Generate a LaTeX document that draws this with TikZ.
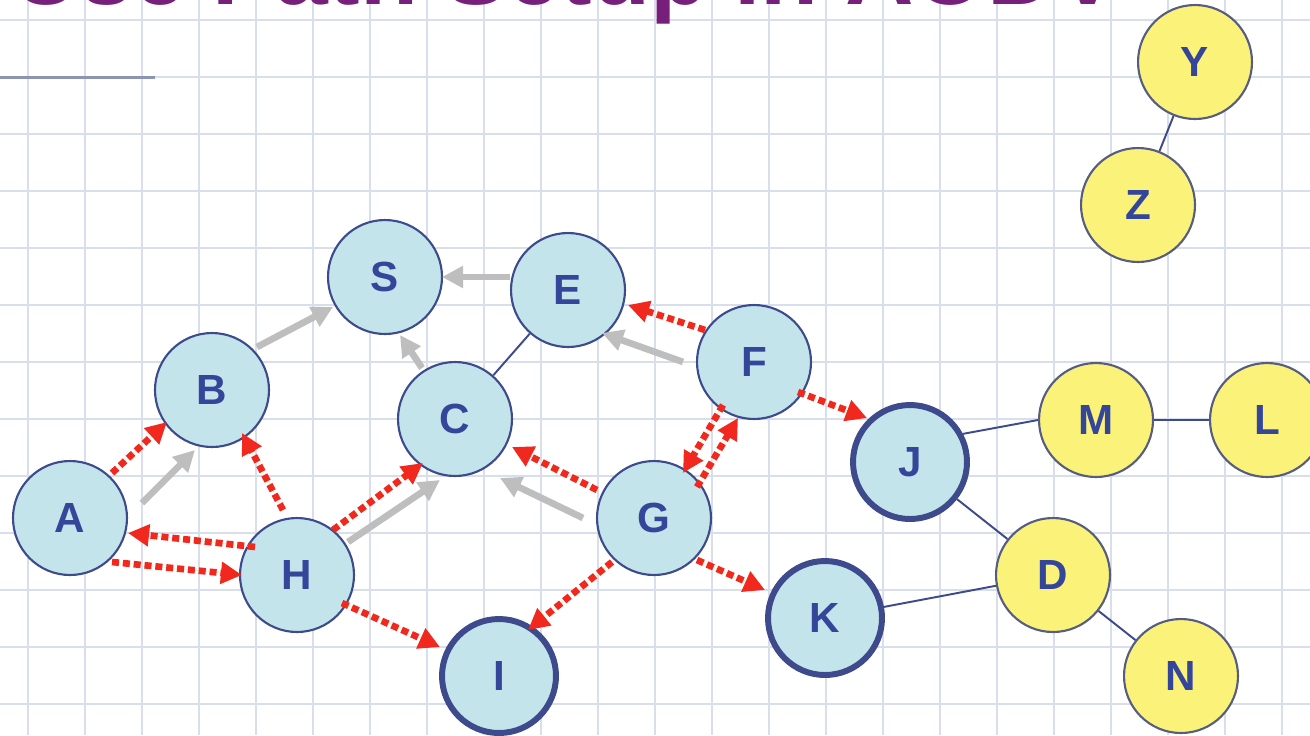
\documentclass[tikz,border=0pt]{standalone}
\usepackage{fontspec}
\setmainfont{Liberation Sans}
\usetikzlibrary{arrows.meta,calc}
\definecolor{gridblue}{HTML}{D9DEEC}
\definecolor{titlepurple}{HTML}{76207C}
\definecolor{rulegray}{HTML}{8C96B4}
\definecolor{nodeblue}{HTML}{C4E4EB}
\definecolor{rimblue}{HTML}{3D4B8C}
\definecolor{letterblue}{HTML}{34469A}
\definecolor{nodeyellow}{HTML}{FBF27A}
\definecolor{rimgray}{HTML}{565D80}
\definecolor{pathred}{HTML}{F0281E}
\definecolor{gapyellow}{HTML}{FFF2B8}
\definecolor{arrowgray}{HTML}{BEBEBE}
\begin{document}
\begin{tikzpicture}[x=0.02cm, y=-0.02cm,
    gridline/.style={draw=gridblue, line width=1.1pt},
    host/.style={circle, draw=rimblue, line width=1.2pt, fill=nodeblue, minimum size=2.28cm, inner sep=0pt,
      text=letterblue, font=\fontsize{24}{24}\selectfont\bfseries},
    endhost/.style={host, line width=3.4pt},
    other/.style={host, draw=rimgray, fill=nodeyellow},
    rreq/.style={draw=pathred, line width=3.8pt, dash pattern=on 4pt off 2.2pt,
      -{Triangle[length=12pt,width=12pt]},
      preaction={draw=gapyellow, solid, -, shorten >=10pt}},
    rrep/.style={draw=arrowgray, line width=3.8pt, -{Triangle[length=12pt,width=12pt]}},
    link/.style={draw=rimblue, line width=1.1pt}]
\useasboundingbox (0,0) rectangle (1310,735);
\clip (0,0) rectangle (1310,735);
\fill[white] (0,0) rectangle (1310,735);
\foreach \gx in {0,...,22} \draw[gridline] ({27.7+57*\gx},0) -- ({27.7+57*\gx},735);
\foreach \gy in {0,...,12} \draw[gridline] (0,{20+57*\gy}) -- (1310,{20+57*\gy});
\node[anchor=base west, inner sep=0pt, text=titlepurple, font=\fontsize{54}{54}\selectfont\bfseries] (title) at (12,4) {Use Path Setup in AODV};
\draw[rulegray, line width=1.7pt] (0,77) -- (155,77);

\node[host] (S) at (385,277) {S};
\node[host] (E) at (568,290) {E};
\node[host] (C) at (455,419) {C};
\node[host] (B) at (212,390) {B};
\node[host] (A) at (70,518) {A};
\node[host] (H) at (297,575) {H};
\node[host] (F) at (754,362) {F};
\node[host] (G) at (654,518) {G};
\node[endhost] (K) at (825,618) {K};
\node[endhost] (I) at (499,676) {I};
\node[endhost] (J) at (910,462) {J};
\node[other] (Y) at (1195,62) {Y};
\node[other] (Z) at (1138,205) {Z};
\node[other] (M) at (1096,420) {M};
\node[other] (L) at (1267,420) {L};
\node[other] (D) at (1053,575) {D};
\node[other] (N) at (1181,676) {N};

\draw[link] (C) -- (E);
\draw[link] (J.28) -- (M.180);
\draw[link] (M) -- (L);
\draw[link] (J) -- (D);
\draw[link] (K) -- (D);
\draw[link] (D) -- (N);
\draw[link] (Z) -- (Y);

\draw[rrep] ($(A)+(72,-15)$) -- ($(B)+(-17,60)$);
\draw[rrep] ($(B)+(45,-43)$) -- ($(S)+(-52,30)$);
\draw[rrep] ($(H)+(51,-33)$) -- ($(C)+(-15,61)$);
\draw[rrep] ($(C)+(-33,-51)$) -- ($(S)+(15,58)$);
\draw[rrep] ($(E)+(-58,-13)$) -- ($(S)+(57,0)$);
\draw[rrep] ($(F)+(-71,0)$) -- ($(E)+(34,43)$);
\draw[rrep] ($(G)+(-71,0)$) -- ($(C)+(45,59)$);

\draw[rreq] ($(A)+(42,-45)$) -- ($(B)+(-45,32)$);
\draw[rreq] ($(H)+(-14,-65)$) -- ($(B)+(30,43)$);
\draw[rreq] ($(H)+(-42,-28)$) -- ($(A)+(58,15)$);
\draw[rreq] ($(A)+(42,44)$) -- ($(H)+(-55,0)$);
\draw[rreq] ($(H)+(36,-45)$) -- ($(C)+(-32,44)$);
\draw[rreq] ($(H)+(45,28)$) -- ($(I)+(-59,-29)$);
\draw[rreq] ($(F)+(-49,-32)$) -- ($(E)+(60,15)$);
\draw[rreq] ($(F)+(-31,43)$) -- ($(G)+(29,-45)$);
\draw[rreq] ($(G)+(43,-31)$) -- ($(F)+(-16,56)$);
\draw[rreq] ($(F)+(44,30)$) -- ($(J)+(-43,-44)$);
\draw[rreq] ($(G)+(-57,-28)$) -- ($(C)+(57,28)$);
\draw[rreq] ($(G)+(-42,44)$) -- ($(I)+(29,-46)$);
\draw[rreq] ($(G)+(43,42)$) -- ($(K)+(-60,-28)$);
\end{tikzpicture}
\end{document}
